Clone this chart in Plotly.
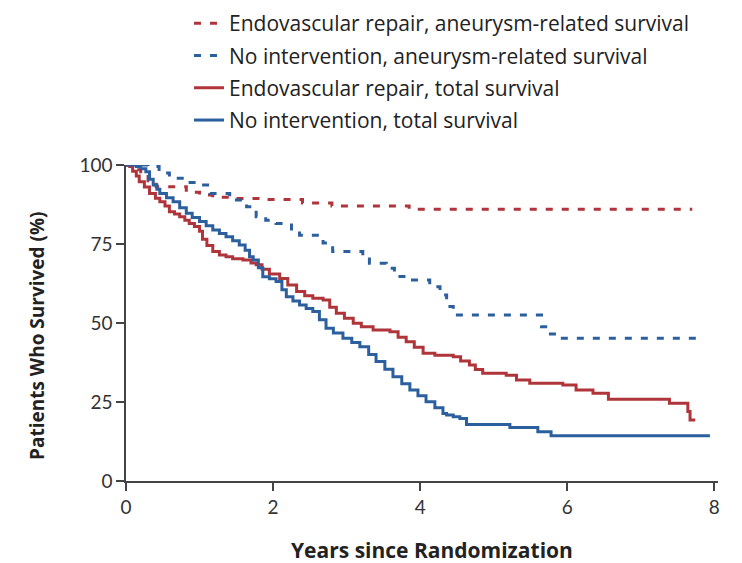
import plotly.graph_objects as go

# Kaplan-Meier step data (years since randomization, percent surviving)
evar_total_t = [0, 0.05, 0.09, 0.14, 0.18, 0.25, 0.32, 0.4, 0.46, 0.53, 0.59, 0.66, 0.73, 0.8,
                0.86, 0.93, 1.0, 1.04, 1.1, 1.18, 1.27, 1.36, 1.45, 1.59, 1.7, 1.77, 1.85, 1.95,
                2.09, 2.2, 2.32, 2.43, 2.54, 2.68, 2.77, 2.86, 2.97, 3.09, 3.2, 3.36, 3.59, 3.7,
                3.81, 3.92, 4.04, 4.2, 4.45, 4.55, 4.67, 4.75, 4.85, 5.17, 5.31, 5.49, 5.94,
                6.12, 6.35, 6.56, 7.39, 7.64, 7.67, 7.74]
evar_total_v = [100, 99.5, 98, 96.5, 94.7, 93, 91, 89.5, 88.4, 87, 85.2, 84.5, 83.6, 82.5,
                81.5, 80.5, 79, 76.5, 74.5, 72.6, 71.5, 71, 70.3, 69.9, 69, 68.4, 67, 65.5,
                64.1, 62, 60, 58.6, 57.8, 57.3, 55, 53.1, 51.5, 49.9, 48.8, 47.8, 47.2, 45.5,
                44.1, 42.3, 40.4, 39.8, 39.3, 38, 36.7, 35.3, 34.1, 33.5, 32, 30.9, 30.4,
                28.8, 27.8, 25.9, 24.6, 22, 19.3, 19.3]

none_total_t = [0, 0.14, 0.2, 0.27, 0.32, 0.37, 0.42, 0.46, 0.55, 0.64, 0.73, 0.82, 0.9, 1.0,
                1.09, 1.18, 1.27, 1.36, 1.45, 1.54, 1.62, 1.68, 1.73, 1.8, 1.86, 1.95, 2.04,
                2.12, 2.18, 2.27, 2.36, 2.45, 2.54, 2.63, 2.72, 2.82, 2.95, 3.07, 3.18, 3.3,
                3.4, 3.52, 3.63, 3.75, 3.86, 3.97, 4.08, 4.2, 4.31, 4.36, 4.45, 4.54, 4.63,
                5.22, 5.6, 5.78, 7.94]
none_total_v = [100, 99.5, 98.8, 97.9, 95.5, 93.7, 92.3, 91, 89.6, 88.4, 86.5, 84.7, 83.4, 82.1,
                80.8, 79.4, 78.3, 77.3, 76, 74.7, 73, 71, 69.9, 67.5, 64.6, 64, 63.1,
                60.5, 58.3, 57, 55.7, 54.6, 53.6, 51, 48.3, 46.8, 45.2, 43.8, 42.5, 40,
                37.8, 35.4, 33, 30.8, 28.8, 27, 25.1, 23.2, 21.4, 20.9, 20.3, 19.8, 17.9,
                16.9, 15.6, 14.3, 14.3]

evar_aneurysm_t = [0, 0.1, 0.2, 0.3, 0.41, 0.82, 1.0, 1.18, 1.5, 1.82, 2.4, 2.8, 3.85, 7.7]
evar_aneurysm_v = [100, 98.5, 97, 95, 93.1, 91.4, 90.5, 89.8, 89.4, 89.1, 88, 87, 86, 86]

none_aneurysm_t = [0, 0.3, 0.45, 0.59, 0.8, 0.95, 1.14, 1.41, 1.64, 1.77, 1.9, 2.04, 2.25,
                   2.36, 2.68, 2.81, 3.22, 3.31, 3.54, 3.65, 3.81, 4.13, 4.27, 4.36, 4.45,
                   5.65, 5.75, 5.85, 7.84]
none_aneurysm_v = [100, 99.5, 97.5, 95.8, 94.5, 93.7, 91, 88.9, 86.8, 83.6, 82.5, 81.5, 79,
                   77.8, 75.3, 72.6, 71, 68.9, 67.3, 64.7, 63.6, 61.5, 58.9, 55.2, 52.5,
                   48.8, 46.5, 45.2, 45.2]

x_ticks = [0, 2, 4, 6, 8]
y_ticks = [0, 25, 50, 75, 100]
x_title = "Years since Randomization"
y_title = "Patients Who Survived (%)"

RED = "#B0353A"
BLUE = "#2C5F9E"
TEXT_FONT = "Open Sans"
TICK_FONT = "Lato"

series = [
    ("Endovascular repair, aneurysm-related survival", evar_aneurysm_t, evar_aneurysm_v, RED, "7px,9px"),
    ("No intervention, aneurysm-related survival", none_aneurysm_t, none_aneurysm_v, BLUE, "7px,9px"),
    ("Endovascular repair, total survival", evar_total_t, evar_total_v, RED, "solid"),
    ("No intervention, total survival", none_total_t, none_total_v, BLUE, "solid"),
]

fig = go.Figure()
for i, (name, t, v, color, dash) in enumerate(series):
    fig.add_trace(go.Scatter(
        x=t, y=v, mode="lines", name=name, line_shape="hv",
        line=dict(color=color, width=3, dash=dash),
        legendgroup=f"g{i}", cliponaxis=False,
    ))

axis_common = dict(
    showgrid=False, zeroline=False, showline=True, linecolor="#444", linewidth=1.5,
    ticks="outside", ticklen=8, tickwidth=1.5, tickcolor="#444",
    tickfont=dict(family=TICK_FONT, size=19, color="#333"),
)

W, H = 742, 563
fig.update_layout(
    width=W, height=H,
    margin=dict(l=126, r=24, t=165, b=82, autoexpand=False),
    paper_bgcolor="white", plot_bgcolor="white",
    font=dict(family=TEXT_FONT, color="#222"),
    xaxis=dict(range=[0, 8.05], tickvals=x_ticks, **axis_common),
    yaxis=dict(range=[0, 100], tickvals=y_ticks, **axis_common),
    legend=dict(xref="container", yref="container", x=189 / W, y=1 - 3 / H,
                xanchor="left", yanchor="top",
                font=dict(family=TEXT_FONT, size=21, color="#222"),
                bgcolor="rgba(0,0,0,0)", tracegroupgap=2),
    showlegend=True,
    annotations=[
        dict(text=f"<b>{x_title}</b>", xref="paper", yref="paper",
             x=(432 - 126) / (W - 126 - 24), y=-(550 - 481) / (H - 165 - 82),
             xanchor="center", yanchor="middle", showarrow=False,
             font=dict(family=TEXT_FONT, size=21, color="#222")),
        dict(text=f"<b>{y_title}</b>", xref="paper", yref="paper", textangle=-90,
             x=-(126 - 37) / (W - 126 - 24), y=(481 - 336) / (H - 165 - 82),
             xanchor="center", yanchor="middle", showarrow=False,
             font=dict(family=TEXT_FONT, size=19, color="#222")),
    ],
)

fig.write_html("out.html")
